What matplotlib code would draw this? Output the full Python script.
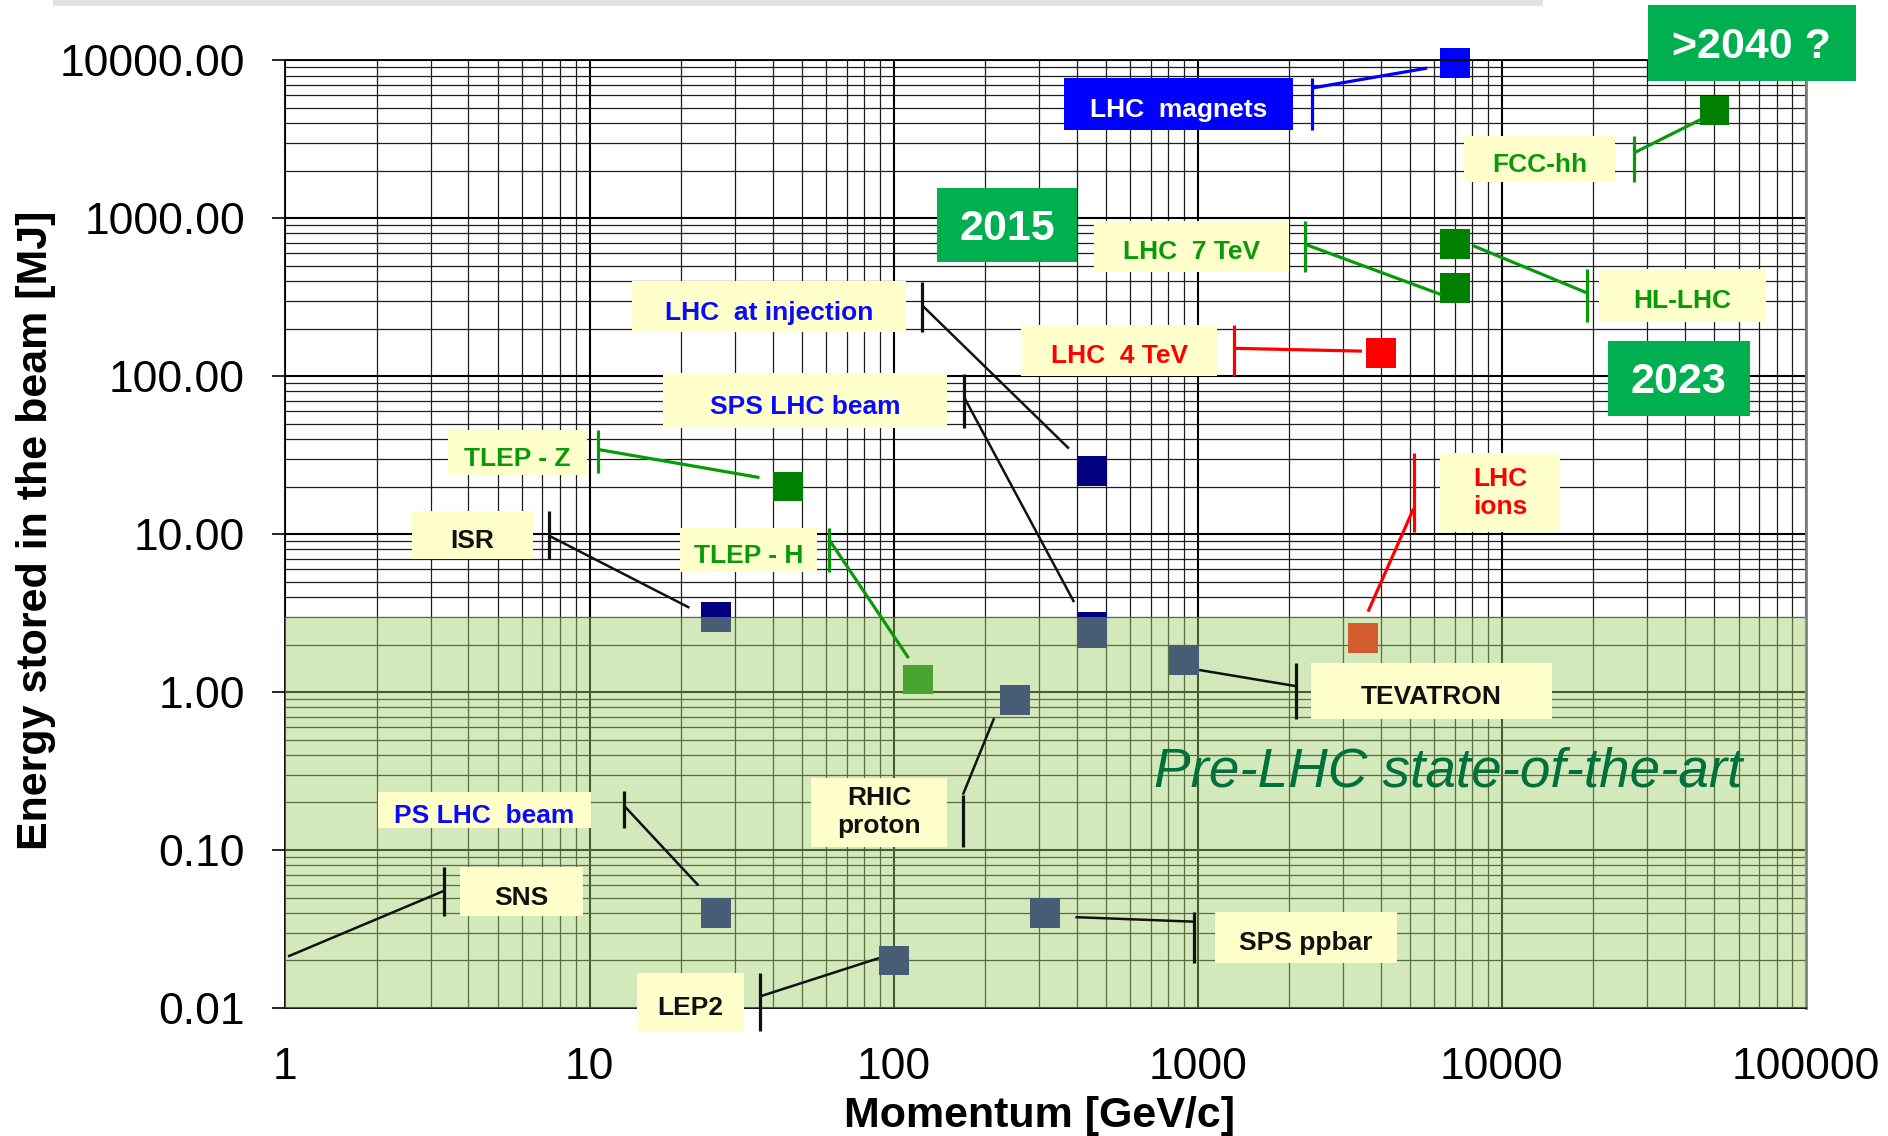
import numpy as np
import matplotlib
matplotlib.use("Agg")
import matplotlib.pyplot as plt
from matplotlib.patches import Rectangle
from matplotlib.ticker import LogLocator, NullFormatter

plt.rcParams['font.family'] = ['Liberation Sans', 'DejaVu Sans']

# ---------------- data ----------------
machines = ['LHC magnets', 'FCC-hh', 'HL-LHC', 'LHC 7 TeV', 'LHC 4 TeV',
            'LHC at injection', 'TLEP - Z', 'ISR', 'SPS LHC beam', 'SPS LHC beam (2)',
            'TLEP - H', 'RHIC proton', 'TEVATRON', 'LHC ions', 'PS LHC beam',
            'SPS ppbar', 'LEP2']
momentum_gev = [7000, 50000, 7000, 7000, 4000,
                450, 45, 26, 450, 450,
                120, 250, 900, 3500, 26,
                315, 100]
stored_energy_mj = [9600, 4800, 690, 360, 140,
                    25, 20, 3.0, 2.6, 2.35,
                    1.2, 0.89, 1.6, 2.2, 0.040,
                    0.040, 0.020]

BLUE, NAVY, GREEN, RED = '#0000ff', '#000080', '#008000', '#ff0000'
marker_colors = [BLUE, GREEN, GREEN, GREEN, RED,
                 NAVY, GREEN, NAVY, NAVY, NAVY,
                 GREEN, NAVY, NAVY, RED, NAVY,
                 NAVY, NAVY]

x_ticks = [1, 10, 100, 1000, 10000, 100000]
x_tick_labels = ['1', '10', '100', '1000', '10000', '100000']
y_ticks = [0.01, 0.1, 1, 10, 100, 1000, 10000]
y_tick_labels = ['0.01', '0.10', '1.00', '10.00', '100.00', '1000.00', '10000.00']

pre_lhc_limit_mj = 3.0

# ---------------- callout layout (data coordinates) ----------------
TXT_GREEN = '#089a08'
TXT_BLUE = '#0a0aff'
YELLOW = '#ffffcc'
BLACK = '#111111'
# text, text colour, box face, box (x0, x1, y0, y1), bar x, bar (y0, y1), line start y, line end (x, y), line colour
callouts = [
    ('LHC  magnets', 'white', '#0000ff', (364, 2056, 3612, 7740), 2380, (3612, 7660), 6668, (5677, 8913), '#0000ff'),
    ('FCC-hh', TXT_GREEN, YELLOW, (7530, 23600, 1698, 3318), 27100, (1698, 3318), 2582, (45100, 4217), TXT_GREEN),
    ('LHC  7 TeV', TXT_GREEN, YELLOW, (457, 1994, 458, 964), 2252, (458, 960), 684, (6320, 328), TXT_GREEN),
    ('HL-LHC', TXT_GREEN, YELLOW, (20900, 73900, 220, 479), 19000, (220, 479), 337, (8040, 670), TXT_GREEN),
    ('LHC  4 TeV', RED, YELLOW, (263, 1161, 100, 212), 1315, (100, 211), 150, (3467, 144), RED),
    ('LHC  at injection', TXT_BLUE, YELLOW, (13.8, 110, 190, 399), 124, (190, 395), 281, (377, 34.8), BLACK),
    ('SPS LHC beam', TXT_BLUE, YELLOW, (17.4, 150, 47.1, 104), 171, (47.1, 103), 72.8, (392, 3.71), BLACK),
    ('TLEP - Z', TXT_GREEN, YELLOW, (3.42, 9.82, 23.8, 45.3), 10.7, (24.2, 45.3), 34.3, (36.2, 22.8), TXT_GREEN),
    ('ISR', BLACK, YELLOW, (2.60, 6.54, 7.0, 14.0), 7.36, (7.0, 14.0), 9.77, (21.3, 3.42), BLACK),
    ('TLEP - H', TXT_GREEN, YELLOW, (19.8, 56.1, 5.76, 10.9), 61.3, (5.76, 10.9), 9.25, (112, 1.64), TXT_GREEN),
    ('LHC\nions', RED, YELLOW, (6280, 15500, 10.3, 32.4), 5125, (10.3, 32.4), 14.5, (3630, 3.23), RED),
    ('TEVATRON', BLACK, YELLOW, (2360, 14600, 0.678, 1.53), 2104, (0.678, 1.53), 1.09, (1011, 1.38), BLACK),
    ('RHIC\nproton', BLACK, YELLOW, (53.6, 150, 0.105, 0.286), 169, (0.105, 0.2244), 0.2244, (214, 0.684), BLACK),
    ('PS LHC  beam', TXT_BLUE, YELLOW, (2.02, 10.1, 0.1374, 0.233), 13.0, (0.1374, 0.237), 0.1905, (22.8, 0.0597), BLACK),
    ('SNS', BLACK, YELLOW, (3.75, 9.49, 0.0382, 0.0776), 3.33, (0.0382, 0.0776), 0.0553, (1.02, 0.0212), BLACK),
    ('SPS ppbar', BLACK, YELLOW, (1141, 4530, 0.0194, 0.0404), 970, (0.0194, 0.0404), 0.0352, (396, 0.0376), BLACK),
    ('LEP2', BLACK, YELLOW, (14.3, 32.3, 0.00718, 0.0166), 36.3, (0.00718, 0.0166), 0.01183, (89.5, 0.0207), BLACK),
]
year_tags = [
    ('2015', (139, 400, 527, 1563)),
    ('2023', (22300, 65300, 56, 168)),
    ('>2040 ?', (30200, 146000, 7380, 22500)),
]

# ---------------- figure ----------------
W, H = 1888, 1136
fig = plt.figure(figsize=(W / 100, H / 100), dpi=100)
ax = fig.add_axes([285.4 / W, (H - 1008) / H, (1806 - 285.4) / W, (1008 - 60.2) / H])

ax.set_xscale('log')
ax.set_yscale('log')
ax.set_xlim(1, 1e5)
ax.set_ylim(0.01, 1e4)

ax.set_xticks(x_ticks)
ax.set_xticklabels(x_tick_labels)
ax.set_yticks(y_ticks)
ax.set_yticklabels(y_tick_labels)
ax.xaxis.set_minor_locator(LogLocator(base=10, subs=np.arange(2, 10)))
ax.yaxis.set_minor_locator(LogLocator(base=10, subs=np.arange(2, 10)))
ax.xaxis.set_minor_formatter(NullFormatter())
ax.yaxis.set_minor_formatter(NullFormatter())

ax.tick_params(axis='y', which='major', length=9.5, width=1.2, pad=19.5, labelsize=32, color='black')
ax.tick_params(axis='x', which='major', length=0, pad=28, labelsize=32)
ax.tick_params(which='minor', length=0)
ax.grid(which='major', color='black', lw=1.5)
ax.grid(which='minor', color='#1e1e1e', lw=0.9)

for s in ['left', 'top', 'bottom']:
    ax.spines[s].set_color('black')
    ax.spines[s].set_linewidth(1.3)
ax.spines['right'].set_color('#808080')
ax.spines['right'].set_linewidth(2)

# markers (below the translucent pre-LHC band)
ax.scatter(momentum_gev, stored_energy_mj, marker='s', s=21.5 ** 2,
           c=marker_colors, linewidths=0, zorder=2, clip_on=False)

# pre-LHC state-of-the-art band
ax.axhspan(ax.get_ylim()[0], pre_lhc_limit_mj, facecolor='#9fd068', alpha=0.45,
           lw=0, zorder=3)
ax.text(6680, 0.251, 'Pre-LHC state-of-the-art', fontsize=39.5, style='italic',
        color='#00703c', ha='center', va='baseline', zorder=6)

# callouts
for txt, tcol, face, box, bx, bys, sy, end, lcol in callouts:
    x0, x1, y0, y1 = box
    ax.add_patch(Rectangle((x0, y0), x1 - x0, y1 - y0, facecolor=face,
                           edgecolor='none', zorder=5, clip_on=False))
    multiline = '\n' in txt
    ax.annotate(txt, xy=(np.sqrt(x0 * x1), np.sqrt(y0 * y1)),
                xytext=(0, 0 if multiline else -2.5), textcoords='offset points',
                color=tcol, fontsize=19, fontweight='bold', ha='center',
                va='center' if multiline else 'center_baseline', zorder=6,
                annotation_clip=False, linespacing=1.2)
    lw = 1.8 if lcol == BLACK else 2.3
    ax.vlines(bx, bys[0], bys[1], color=lcol, lw=2.3, zorder=4, clip_on=False)
    ax.plot([bx, end[0]], [sy, end[1]], color=lcol, lw=lw, zorder=4,
            clip_on=False, solid_capstyle='butt')

for txt, box in year_tags:
    x0, x1, y0, y1 = box
    ax.add_patch(Rectangle((x0, y0), x1 - x0, y1 - y0, facecolor='#00b050',
                           edgecolor='none', zorder=5, clip_on=False))
    ax.annotate(txt, xy=(np.sqrt(x0 * x1), np.sqrt(y0 * y1)), xytext=(0, 0.5),
                textcoords='offset points', color='white', fontsize=31,
                fontweight='bold', ha='center', va='center_baseline', zorder=6,
                annotation_clip=False)

# axis titles
fig.text(46.9 / W, 1 - 530 / H, 'Energy stored in the beam [MJ]', rotation=90,
         fontsize=31, fontweight='bold', ha='center', va='baseline',
         rotation_mode='anchor')
fig.text(1039.5 / W, 1 - 1127.4 / H, 'Momentum [GeV/c]', fontsize=31,
         fontweight='bold', ha='center', va='baseline')

# slide shadow line at the very top
fig.patches.append(Rectangle((53 / W, 1 - 6 / H), (1543 - 53) / W, 6 / H,
                             transform=fig.transFigure, facecolor='#e2e2e2',
                             edgecolor='none'))

fig.savefig('out.png', dpi=100)
